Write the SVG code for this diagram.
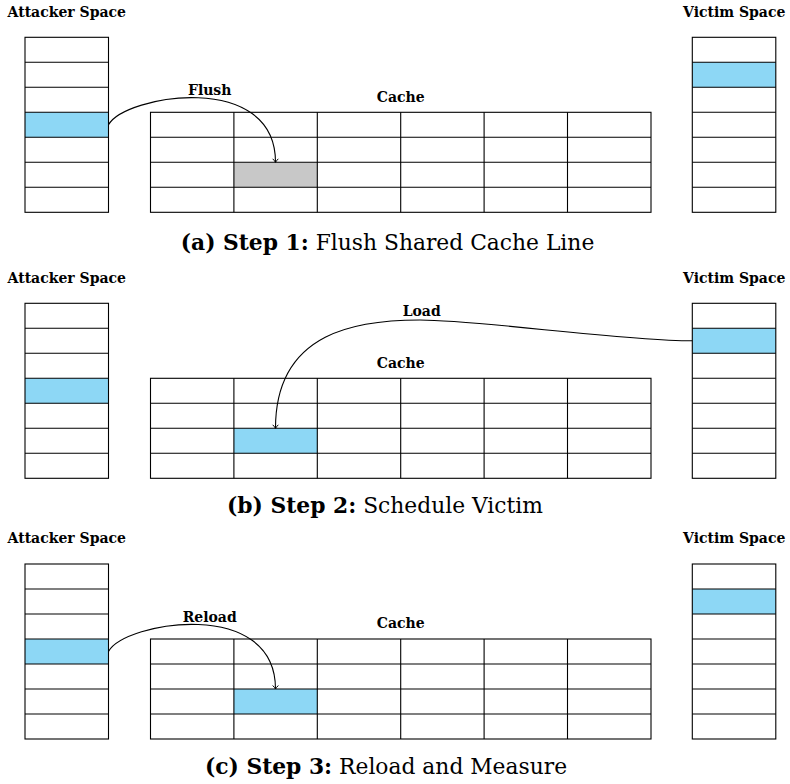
<svg xmlns="http://www.w3.org/2000/svg" width="790" height="784" viewBox="0 0 790 784">
<defs>
<style>
.bg{fill:#ffffff}
.box{fill:none;stroke:#000;stroke-width:1.1}
.ln{stroke:#000;stroke-width:1.1}
.hl{fill:#8dd7f5}
.gr{fill:#c8c8c8}
.lbl{font-family:"DejaVu Serif","Liberation Serif",serif;font-weight:bold;font-size:14px;fill:#000;text-anchor:middle}
.cap{font-family:"DejaVu Serif","Liberation Serif",serif;font-size:21.8px;fill:#000;text-anchor:middle}
.capb{font-weight:bold}
.arc{fill:none;stroke:#000;stroke-width:1.1;marker-end:url(#ah)}
</style>
<marker id="ah" markerWidth="10" markerHeight="10" viewBox="-5 -5 10 10" refX="0" refY="0" orient="auto" markerUnits="userSpaceOnUse">
<path d="M-3.5,-2.8 Q-1.2,-0.6 0,0 Q-1.2,0.6 -3.5,2.8" fill="none" stroke="#000" stroke-width="1"/>
</marker>
<g id="col7">
<rect x="0" y="0" width="83.5" height="175" class="box"/>
<path class="ln" d="M0,25H83.5M0,50H83.5M0,75H83.5M0,100H83.5M0,125H83.5M0,150H83.5"/>
</g>
<g id="grid">
<rect x="0" y="0" width="500.5" height="100" class="box"/>
<path class="ln" d="M0,25H500.5M0,50H500.5M0,75H500.5M83.4,0V100M166.8,0V100M250.2,0V100M333.6,0V100M417,0V100"/>
</g>
</defs>
<rect class="bg" x="0" y="0" width="790" height="784"/>

<!-- Panel (a) -->
<g id="panel-a">
<text class="lbl" x="66.75" y="16.7">Attacker Space</text>
<text class="lbl" x="734.2" y="16.7">Victim Space</text>
<g id="attacker-a">
<rect class="hl" x="25" y="112.3" width="83.5" height="25"/>
<use href="#col7" x="25" y="37.3"/>
</g>
<g id="victim-a">
<rect class="hl" x="692.3" y="62.3" width="83.5" height="25"/>
<use href="#col7" x="692.3" y="37.3"/>
</g>
<g id="cache-a">
<text class="lbl" x="400.75" y="101.7">Cache</text>
<rect class="gr" x="233.9" y="162.3" width="83.4" height="25"/>
<use href="#grid" x="150.5" y="112.3"/>
</g>
<g id="connectors-a">
<path class="arc" d="M108.5,124.8 C125,95 275.5,70 275.5,162.3"/>
<text class="lbl" x="209.7" y="95">Flush</text>
</g>
<text class="cap" x="387.5" y="250"><tspan class="capb">(a) Step 1:</tspan> Flush Shared Cache Line</text>
</g>

<!-- Panel (b) -->
<g id="panel-b" transform="translate(0,266)">
<text class="lbl" x="66.75" y="16.7">Attacker Space</text>
<text class="lbl" x="734.2" y="16.7">Victim Space</text>
<g id="attacker-b">
<rect class="hl" x="25" y="112.3" width="83.5" height="25"/>
<use href="#col7" x="25" y="37.3"/>
</g>
<g id="victim-b">
<rect class="hl" x="692.3" y="62.3" width="83.5" height="25"/>
<use href="#col7" x="692.3" y="37.3"/>
</g>
<g id="cache-b">
<text class="lbl" x="400.75" y="101.7">Cache</text>
<rect class="hl" x="233.9" y="162.3" width="83.4" height="25"/>
<use href="#grid" x="150.5" y="112.3"/>
</g>
<g id="connectors-b">
<path class="arc" d="M692.3,74.8 C620,74.8 480,54 420,54 C360,54 275.5,64 275.5,162.3"/>
<text class="lbl" x="421.7" y="50">Load</text>
</g>
</g>
<text class="cap" x="385" y="512.7"><tspan class="capb">(b) Step 2:</tspan> Schedule Victim</text>

<!-- Panel (c) -->
<g id="panel-c" transform="translate(0,526.7)">
<text class="lbl" x="66.75" y="16.7">Attacker Space</text>
<text class="lbl" x="734.2" y="16.7">Victim Space</text>
<g id="attacker-c">
<rect class="hl" x="25" y="112.3" width="83.5" height="25"/>
<use href="#col7" x="25" y="37.3"/>
</g>
<g id="victim-c">
<rect class="hl" x="692.3" y="62.3" width="83.5" height="25"/>
<use href="#col7" x="692.3" y="37.3"/>
</g>
<g id="cache-c">
<text class="lbl" x="400.75" y="101.7">Cache</text>
<rect class="hl" x="233.9" y="162.3" width="83.4" height="25"/>
<use href="#grid" x="150.5" y="112.3"/>
</g>
<g id="connectors-c">
<path class="arc" d="M108.5,124.8 C125,95 275.5,70 275.5,162.3"/>
<text class="lbl" x="209.7" y="95">Reload</text>
</g>
</g>
<text class="cap" x="386" y="773.7"><tspan class="capb">(c) Step 3:</tspan> Reload and Measure</text>
</svg>
